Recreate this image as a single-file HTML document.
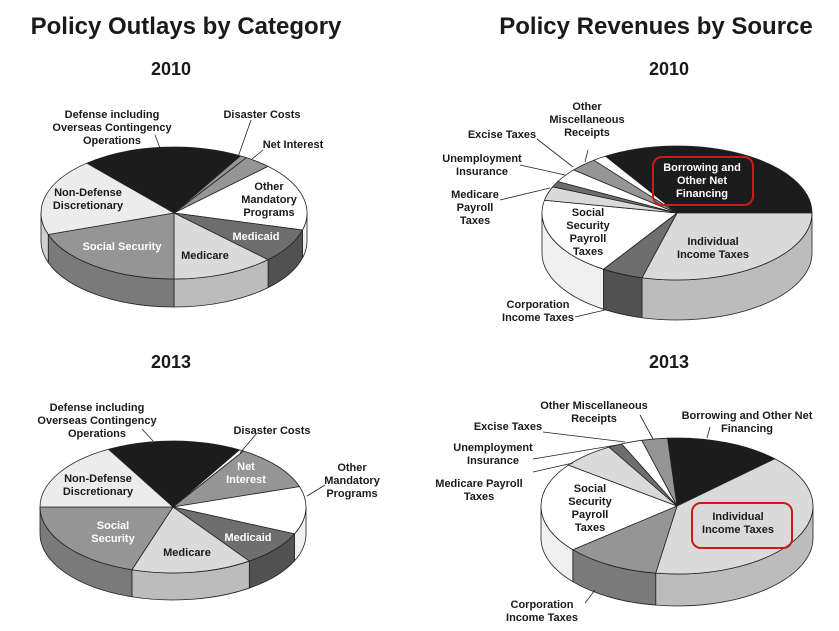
<!DOCTYPE html>
<html><head><meta charset="utf-8"><style>
html,body{margin:0;padding:0;background:#fff;width:839px;height:631px;overflow:hidden}
svg text{font-family:"Liberation Sans",Arial,sans-serif;font-weight:bold}
</style></head><body>
<svg id="s" width="839" height="631" viewBox="0 0 839 631" xmlns="http://www.w3.org/2000/svg">
<text x="186" y="34" font-size="24" text-anchor="middle" fill="#1a1a1a">Policy Outlays by Category</text>
<text x="656" y="34" font-size="24" text-anchor="middle" fill="#1a1a1a">Policy Revenues by Source</text>
<text x="171" y="75" font-size="18" text-anchor="middle" fill="#1a1a1a">2010</text>
<text x="669" y="75" font-size="18" text-anchor="middle" fill="#1a1a1a">2010</text>
<text x="171" y="368" font-size="18" text-anchor="middle" fill="#1a1a1a">2013</text>
<text x="669" y="368" font-size="18" text-anchor="middle" fill="#1a1a1a">2013</text>
<g id="pies"></g>
<g id="labels" font-size="11" text-anchor="middle" fill="#1a1a1a"></g>
</svg>
<script>
var C={K:["#1c1c1c","#111"],W:["#ffffff","#f0f0f0"],L:["#dadada","#bcbcbc"],E:["#ececec","#d0d0d0"],M:["#959595","#7a7a7a"],D:["#6e6e6e","#515151"]};
var NS="http://www.w3.org/2000/svg",g=document.getElementById("pies");
function el(t,a){var e=document.createElementNS(NS,t);for(var k in a)e.setAttribute(k,a[k]);return e;}
function pie(cx,cy,rx,ry,d,sl){
 function P(a,o){a=a*Math.PI/180;return [(cx+rx*Math.cos(a)).toFixed(2),(cy+ry*Math.sin(a)+(o||0)).toFixed(2)];}
 var grp=el("g",{});g.appendChild(grp);
 sl.forEach(function(s){
  [[0,180],[360,540]].forEach(function(r){
   var a1=Math.max(s[0],r[0]),a2=Math.min(s[1],r[1]);
   if(a2<=a1)return;
   var p1=P(a1),p2=P(a2),q2=P(a2,d),q1=P(a1,d);
   grp.appendChild(el("path",{d:"M"+p1+" A"+rx+" "+ry+" 0 0 1 "+p2+" L"+q2+" A"+rx+" "+ry+" 0 0 0 "+q1+" Z",fill:C[s[2]][1],stroke:"#222","stroke-width":"0.8"}));
  });
 });
 sl.forEach(function(s){
  var p1=P(s[0]),p2=P(s[1]),lg=(s[1]-s[0])>180?1:0;
  grp.appendChild(el("path",{d:"M"+cx+" "+cy+" L"+p1+" A"+rx+" "+ry+" 0 "+lg+" 1 "+p2+" Z",fill:C[s[2]][0],stroke:"#222","stroke-width":"0.8","stroke-linejoin":"round"}));
 });
}
pie(174,213,133,66,28,[[229,300,"K"],[300,303,"M"],[303,315,"M"],[315,375,"W"],[15,45,"D"],[45,90,"L"],[90,161,"M"],[161,229,"E"]]);
pie(677,213,135,67,40,[[238,360,"K"],[0,105,"L"],[105,123,"D"],[123,191,"W"],[191,203,"L"],[203,208,"D"],[208,220,"W"],[220,232,"M"],[232,238,"W"]]);
pie(173,507,133,66,27,[[241,300,"K"],[300,302,"W"],[302,342,"M"],[342,384,"W"],[24,55,"D"],[55,108,"L"],[108,180,"M"],[180,241,"E"]]);
pie(677,506,136,68,32,[[266,316,"K"],[316,459,"L"],[99,140,"M"],[140,217,"W"],[217,240,"L"],[240,246,"D"],[246,255,"W"],[255,266,"M"]]);
g.appendChild(el("rect",{x:653,y:157,width:100,height:48,rx:9,fill:"none",stroke:"#d01818","stroke-width":"2"}));
g.appendChild(el("rect",{x:692,y:503,width:100,height:45,rx:9,fill:"none",stroke:"#d01818","stroke-width":"2"}));
var L=document.getElementById("labels");
function T(x,y,lines,col){lines.forEach(function(t,i){var e=el("text",{x:x,y:y+i*13+4});if(col)e.setAttribute("fill",col);e.textContent=t;L.appendChild(e);});}
function ln(a,b,c,d){L.appendChild(el("line",{x1:a,y1:b,x2:c,y2:d,stroke:"#222","stroke-width":"0.8"}));}
T(112,114,["Defense including","Overseas Contingency","Operations"]);
T(262,114,["Disaster Costs"]);T(293,144,["Net Interest"]);
T(269,186,["Other","Mandatory","Programs"]);T(256,236,["Medicaid"],"#fff");
T(205,255,["Medicare"]);T(122,246,["Social Security"],"#fff");
T(88,192,["Non-Defense","Discretionary"]);
ln(155,135,160,148);ln(251,120,238,157);ln(263,150,252,159);
T(587,106,["Other","Miscellaneous","Receipts"]);T(502,134,["Excise Taxes"]);
T(482,158,["Unemployment","Insurance"]);T(475,194,["Medicare","Payroll","Taxes"]);
T(702,167,["Borrowing and","Other Net","Financing"],"#fff");
T(588,212,["Social","Security","Payroll","Taxes"]);T(713,241,["Individual","Income Taxes"]);
T(538,304,["Corporation","Income Taxes"]);
ln(588,150,585,162);ln(537,139,573,167);ln(520,165,565,175);ln(500,200,550,188);ln(575,317,605,310);
T(97,407,["Defense including","Overseas Contingency","Operations"]);
T(272,430,["Disaster Costs"]);T(246,466,["Net","Interest"],"#fff");
T(352,467,["Other","Mandatory","Programs"]);T(248,537,["Medicaid"],"#fff");
T(187,552,["Medicare"]);T(113,525,["Social","Security"],"#fff");
T(98,478,["Non-Defense","Discretionary"]);
ln(142,429,153,441);ln(257,433,240,453);ln(325,485,307,496);
T(594,405,["Other Miscellaneous","Receipts"]);T(747,415,["Borrowing and Other Net","Financing"]);
T(508,426,["Excise Taxes"]);T(493,447,["Unemployment","Insurance"]);
T(479,483,["Medicare Payroll","Taxes"]);T(590,488,["Social","Security","Payroll","Taxes"]);
T(738,516,["Individual","Income Taxes"]);T(542,604,["Corporation","Income Taxes"]);
ln(640,415,653,439);ln(710,427,707,438);ln(543,432,625,442);ln(533,459,617,445);ln(533,472,573,463);ln(585,603,595,590);
</script>
</body></html>
